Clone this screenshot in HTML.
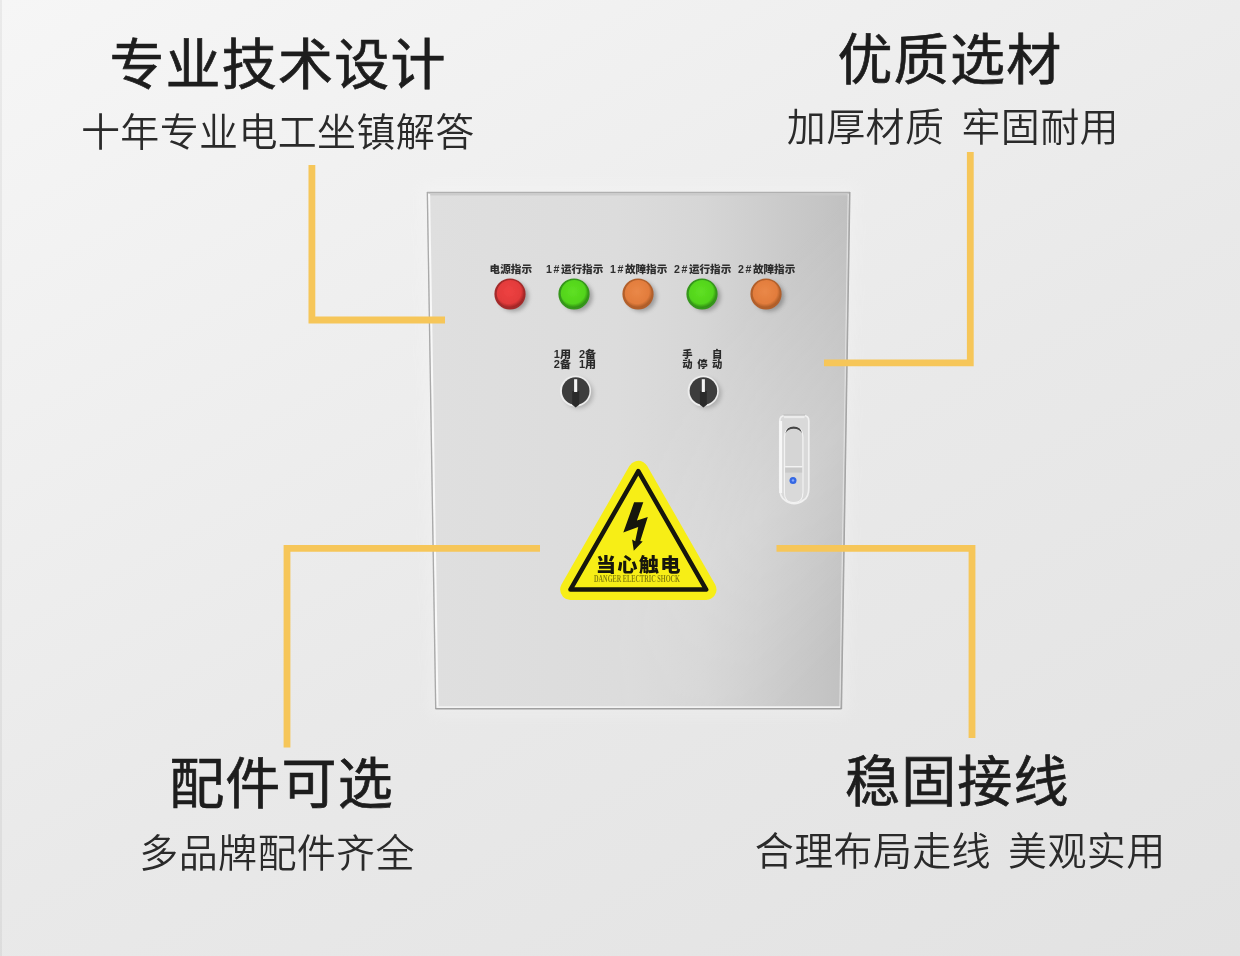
<!DOCTYPE html>
<html lang="zh-CN">
<head>
<meta charset="utf-8">
<title>配电箱 产品特点</title>
<style>
  html, body { margin: 0; padding: 0; }
  body {
    width: 1240px; height: 956px; overflow: hidden; position: relative;
    background: linear-gradient(90deg, rgba(0,0,0,0.05) 0, rgba(0,0,0,0.05) 1.5px, rgba(0,0,0,0) 2.5px), linear-gradient(151deg, #f6f6f6 0%, #e9e9e9 55%, #e2e2e2 100%);
    font-family: "Liberation Sans", "Noto Sans CJK SC", sans-serif;
    color: #1f1f1f;
  }
  .cap { position: absolute; white-space: nowrap; text-align: center; box-sizing: border-box; }
  .t { font-size: 55px; font-weight: 400; line-height: 60px; color: #1d1d1d; -webkit-text-stroke: 0.7px #1d1d1d; letter-spacing: 1.2px; padding-left: 1.2px; filter: blur(0.35px); }
  .s { font-size: 39px; font-weight: 350; line-height: 44px; color: #2a2a2a; letter-spacing: 0.35px; padding-left: 0.35px; word-spacing: 6px; filter: blur(0.3px); }
  svg { position: absolute; left: 0; top: 0; }
</style>
</head>
<body>

<svg width="1240" height="956" viewBox="0 0 1240 956">
  <defs>
    <linearGradient id="face" x1="0" y1="0" x2="1" y2="0">
      <stop offset="0" stop-color="#dfdfdf"/>
      <stop offset="0.45" stop-color="#dcdcdc"/>
      <stop offset="0.65" stop-color="#d6d6d6"/>
      <stop offset="0.8" stop-color="#cdcdcd"/>
      <stop offset="0.93" stop-color="#c5c5c5"/>
      <stop offset="1" stop-color="#c0c0c0"/>
    </linearGradient>
    <linearGradient id="faceV" gradientUnits="userSpaceOnUse" x1="520" y1="520" x2="750" y2="750">
      <stop offset="0" stop-color="#ffffff" stop-opacity="0"/>
      <stop offset="0.5" stop-color="#ffffff" stop-opacity="0.17"/>
      <stop offset="1" stop-color="#ffffff" stop-opacity="0"/>
    </linearGradient>
    <linearGradient id="mgrad" gradientUnits="userSpaceOnUse" x1="590" y1="0" x2="760" y2="0">
      <stop offset="0" stop-color="#000"/>
      <stop offset="1" stop-color="#fff"/>
    </linearGradient>
    <mask id="sheenMask" maskUnits="userSpaceOnUse" x="420" y="185" width="440" height="530">
      <rect x="420" y="185" width="440" height="530" fill="url(#mgrad)"/>
    </mask>
    <radialGradient id="gRed" cx="0.45" cy="0.42" r="0.6">
      <stop offset="0" stop-color="#ee4242"/>
      <stop offset="0.75" stop-color="#e23a3a"/>
      <stop offset="1" stop-color="#9c2424"/>
    </radialGradient>
    <radialGradient id="gGreen" cx="0.45" cy="0.42" r="0.6">
      <stop offset="0" stop-color="#5fe022"/>
      <stop offset="0.75" stop-color="#52d41c"/>
      <stop offset="1" stop-color="#2f8a12"/>
    </radialGradient>
    <radialGradient id="gOrange" cx="0.45" cy="0.42" r="0.6">
      <stop offset="0" stop-color="#ea8848"/>
      <stop offset="0.75" stop-color="#e27c3c"/>
      <stop offset="1" stop-color="#a85a26"/>
    </radialGradient>
    <filter id="blur1" x="-50%" y="-50%" width="200%" height="200%"><feGaussianBlur stdDeviation="2.2"/></filter>
    <filter id="blur05" x="-20%" y="-20%" width="140%" height="140%"><feGaussianBlur stdDeviation="0.5"/></filter>
    <filter id="blur03" x="-2%" y="-2%" width="104%" height="104%"><feGaussianBlur stdDeviation="0.35"/></filter>
    <filter id="blurGlow" x="-10%" y="-10%" width="120%" height="120%"><feGaussianBlur stdDeviation="7"/></filter>
    <filter id="blur06" x="-5%" y="-20%" width="110%" height="140%"><feGaussianBlur stdDeviation="0.55"/></filter>
    <filter id="blur04" x="-10%" y="-10%" width="120%" height="120%"><feGaussianBlur stdDeviation="0.45"/></filter>
  </defs>

  <!-- cabinet -->
  <polygon points="427,192 850,192 841.500,709 435.500,709" fill="#ffffff" stroke="#ffffff" stroke-width="12" opacity="0.18" filter="url(#blurGlow)"/>
  <g filter="url(#blur03)">
    <polygon points="427,192 850,192 841.500,709 435.500,709" fill="url(#face)"/>
    <polygon points="427,192 850,192 841.500,709 435.500,709" fill="url(#faceV)" mask="url(#sheenMask)"/>
    <path d="M428.500,194.300 H848.500" stroke="#c9c9c9" stroke-width="2.400" stroke-opacity="0.850" fill="none"/>
    <path d="M848.300,194 L839.900,707.500" stroke="#dedede" stroke-width="1.400" fill="none"/>
    <path d="M429.100,194 L437.500,707.500" stroke="#f8f8f8" stroke-width="2.100" fill="none"/>
    <path d="M437,707.100 H840" stroke="#f3f3f3" stroke-width="1.600" fill="none"/>
    <path d="M427,192.400 H850" stroke="#b0b0b0" stroke-width="1.400" fill="none"/>
    <path d="M849.800,192 L841.400,709" stroke="#a5a5a5" stroke-width="1.500" fill="none"/>
    <path d="M427.300,192 L435.700,709" stroke="#a9a9a9" stroke-width="1.300" fill="none"/>
    <path d="M435.500,708.800 H841.500" stroke="#a0a0a0" stroke-width="1.600" fill="none"/>
  </g>

  <!-- indicator lights -->
  <g>
    <g filter="url(#blur1)" opacity="0.42" fill="#4a4a4a">
      <circle cx="513.5" cy="296.5" r="15"/><circle cx="577.5" cy="296.5" r="15"/><circle cx="641.5" cy="296.5" r="15"/><circle cx="705.5" cy="296.5" r="15"/><circle cx="769.5" cy="296.5" r="15"/>
    </g>
    <g filter="url(#blur05)">
      <circle cx="510" cy="294" r="15.6" fill="#a32a2a"/><circle cx="510.3" cy="293.6" r="13.6" fill="url(#gRed)"/>
      <circle cx="574" cy="294" r="15.6" fill="#34961a"/><circle cx="574.3" cy="293.6" r="13.6" fill="url(#gGreen)"/>
      <circle cx="638" cy="294" r="15.6" fill="#b25f2a"/><circle cx="638.3" cy="293.6" r="13.6" fill="url(#gOrange)"/>
      <circle cx="702" cy="294" r="15.6" fill="#34961a"/><circle cx="702.3" cy="293.6" r="13.6" fill="url(#gGreen)"/>
      <circle cx="766" cy="294" r="15.6" fill="#b25f2a"/><circle cx="766.3" cy="293.6" r="13.6" fill="url(#gOrange)"/>
    </g>
  </g>
  <g font-family="'Liberation Sans','Noto Sans CJK SC',sans-serif" font-size="10.6" font-weight="900" fill="#2e2e2e" text-anchor="middle" filter="url(#blur06)">
    <text x="510.8" y="273.1">电源指示</text>
    <text x="574.6" y="273.1"><tspan letter-spacing="1.6">1#</tspan>运行指示</text>
    <text x="638.6" y="273.1"><tspan letter-spacing="1.6">1#</tspan>故障指示</text>
    <text x="702.6" y="273.1"><tspan letter-spacing="1.6">2#</tspan>运行指示</text>
    <text x="766.6" y="273.1"><tspan letter-spacing="1.6">2#</tspan>故障指示</text>
  </g>

  <!-- selector switches -->
  <g>
    <g filter="url(#blur1)" opacity="0.3" fill="#555"><circle cx="578.5" cy="393.5" r="15"/><circle cx="706.5" cy="393.5" r="15"/></g>
    <g filter="url(#blur05)">
      <circle cx="575.5" cy="391" r="15.6" fill="#eeeeee"/>
      <circle cx="575.7" cy="391" r="13.8" fill="#3e3e3e"/>
      <path d="M572.2,391 h7 v13.8 l-3.5,2.6 l-3.5,-2.600 z" fill="#2c2c2c"/>
      <rect x="574.1" y="379.2" width="3.1" height="12.8" fill="#f4f4f4"/>
      <circle cx="703.2" cy="391" r="15.6" fill="#eeeeee"/>
      <circle cx="703.4" cy="391" r="13.8" fill="#3e3e3e"/>
      <path d="M699.900,391 h7 v13.8 l-3.5,2.6 l-3.5,-2.600 z" fill="#2c2c2c"/>
      <rect x="701.800" y="379.2" width="3.1" height="12.8" fill="#f4f4f4"/>
    </g>
  </g>
  <g font-family="'Liberation Sans','Noto Sans CJK SC',sans-serif" font-size="10.3" font-weight="900" fill="#2a2a2a" text-anchor="middle" filter="url(#blur06)">
    <text x="562.4" y="357.7" textLength="17.2" lengthAdjust="spacingAndGlyphs">1用</text><text x="587.5" y="357.7" textLength="17.2" lengthAdjust="spacingAndGlyphs">2备</text>
    <text x="562.4" y="368.1" textLength="17.2" lengthAdjust="spacingAndGlyphs">2备</text><text x="587.5" y="368.1" textLength="17.2" lengthAdjust="spacingAndGlyphs">1用</text>
    <text x="687.5" y="357.7">手</text><text x="717.2" y="357.7">自</text>
    <text x="687.5" y="368.1">动</text><text x="702.5" y="368.1">停</text><text x="717.2" y="368.1">动</text>
  </g>

  <!-- handle -->
  <g filter="url(#blur05)">
    <path d="M779.800,421 q0,-5.500 5.500,-5.500 h18 q5.500,0 5.500,5.500 v67 q0,9 -5,12 q-4.500,3.600 -9.500,3.600 q-5,0 -9.500,-3.600 q-5,-3 -5,-12 z" fill="#d9d9d9" stroke="#f1f1f1" stroke-width="1.700"/>
    <path d="M784,417 h20.500" stroke="#ececec" stroke-width="2.400" fill="none"/>
    <path d="M783.500,415 h21.500" stroke="#bcbcbc" stroke-width="1.300" fill="none"/>
    <path d="M780.700,421 v72" stroke="#f7f7f7" stroke-width="2.800" fill="none"/>
    <path d="M784.500,437 q0,-10 9.200,-10 q9.200,0 9.200,10 v55.500 q0,10 -9.200,10 q-9.200,0 -9.200,-10 z" fill="#d5d5d5" stroke="#f2f2f2" stroke-width="1.300"/>
    <path d="M785.300,433.500 q1.200,-7 8.400,-7 q7.200,0 8.400,7 q-2.200,-4.800 -8.400,-4.800 q-6.200,0 -8.400,4.800 z" fill="#444"/>
    <rect x="785.200" y="467.300" width="17" height="5.500" fill="#c9c9c9"/>
    <rect x="785.200" y="466" width="17" height="1.400" fill="#f3f3f3"/>
    <path d="M785.200,472.800 h17 v20 q0,9 -8.500,9 q-8.500,0 -8.500,-9 z" fill="#d9d9d9"/>
    <circle cx="793" cy="480.400" r="3.500" fill="#3568e4"/>
    <circle cx="793" cy="480.400" r="1.200" fill="#86a9ff"/>
  </g>

  <!-- warning sign -->
  <g filter="url(#blur04)">
    <path d="M638.300,471.100 L706.200,589.600 L570.400,589.600 Z" fill="#f7ee18" stroke="#f7ee18" stroke-width="20.600" stroke-linejoin="round"/>
    <path d="M638.300,471.100 L706.200,589.600 L570.400,589.600 Z" fill="none" stroke="#17170f" stroke-width="4.500" stroke-linejoin="round"/>
    <path d="M634.100,502.300 L643.300,502.300 L636.900,520.500 L647.800,516.900 L640.300,541 L642.700,541.600 L633.800,550.800 L632.100,539.600 L635.200,541.200 L638.200,527 L623.300,532.400 Z" fill="#17170f"/>
    <text x="595.800" y="571.800" letter-spacing="1.200" textLength="86" lengthAdjust="spacingAndGlyphs" font-family="'Liberation Sans','Noto Sans CJK SC',sans-serif" font-weight="900" font-size="19" fill="#121209">当心触电</text>
    <text x="594" y="581.800" font-family="'Liberation Serif',serif" font-weight="700" font-size="9.600" fill="#4a4608" fill-opacity="0.640" textLength="86" lengthAdjust="spacingAndGlyphs">DANGER ELECTRIC SHOCK</text>
  </g>

  <!-- callout lines -->
  <g fill="none" stroke="#f6c659" stroke-width="6.800" stroke-linejoin="miter" stroke-linecap="butt">
    <polyline points="311.900,165 311.900,320 445,320"/>
    <polyline points="970.300,152 970.300,362.900 824,362.900"/>
    <polyline points="540,548.300 287,548.300 287,747.500"/>
    <polyline points="776.500,548.300 972,548.300 972,738"/>
  </g>
</svg>

<div class="cap t" style="left:27.4px; width:500px; top:35px;">专业技术设计</div>
<div class="cap s" style="left:27.6px; width:500px; top:111px;">十年专业电工坐镇解答</div>

<div class="cap t" style="left:699.4px; width:500px; top:30px;">优质选材</div>
<div class="cap s" style="left:702.7px; width:500px; top:106px;">加厚材质 牢固耐用</div>

<div class="cap t" style="left:30.95px; width:500px; top:753.5px;">配件可选</div>
<div class="cap s" style="left:26.9px; width:500px; top:831.5px;">多品牌配件齐全</div>

<div class="cap t" style="left:706.75px; width:500px; top:752px;">稳固接线</div>
<div class="cap s" style="left:710px; width:500px; top:830px;">合理布局走线 美观实用</div>

</body>
</html>
